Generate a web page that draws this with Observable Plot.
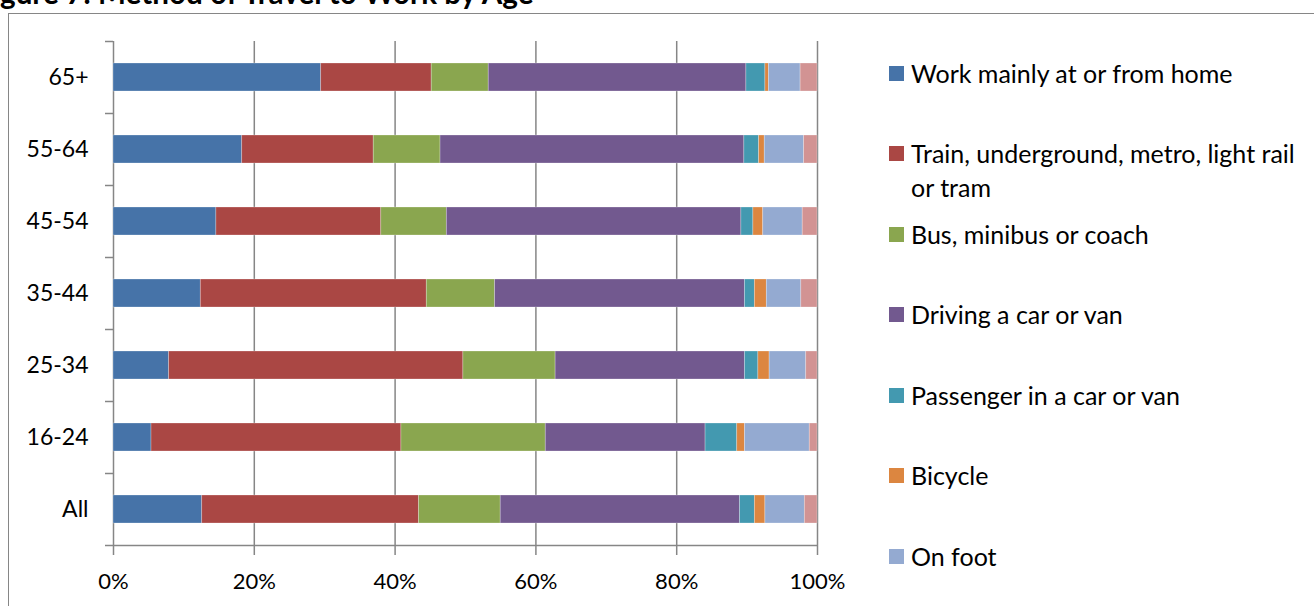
<!DOCTYPE html>
<html>
<head>
<meta charset="utf-8">
<script src="https://cdn.jsdelivr.net/npm/d3@7"></script>
<script src="https://cdn.jsdelivr.net/npm/@observablehq/plot@0.6"></script>
<style>
  html, body { margin: 0; padding: 0; background: #fff; }
  #wrap { position: relative; width: 1314px; height: 606px; overflow: hidden; background: #fff; font-family: Lato, "Open Sans", sans-serif; }
  #frame { position: absolute; left: 8px; top: 13px; width: 1400px; height: 700px; border: 1.5px solid #868686; box-sizing: border-box; }
  #title { position: absolute; left: 0; top: 0; }
  #chart { position: absolute; left: 0; top: 0; }
  .lg { position: absolute; left: 889px; width: 420px; font-size: 25px; line-height: 34px; color: #000; }
  .lg .sw { position: absolute; left: 0; top: 10px; width: 15px; height: 15px; }
  .lg .tx { margin-left: 22px; display: block; width: 395px; }
</style>
</head>
<body>
<div id="wrap">
  <div id="frame"></div>
  <svg id="title" width="1314" height="20"></svg>
  <div id="chart"></div>
  <div id="legend"></div>
</div>
<script>
// ---- Data ----
const ages = ["65+", "55-64", "45-54", "35-44", "25-34", "16-24", "All"];
const modes = [
  "Work mainly at or from home",
  "Train, underground, metro, light rail or tram",
  "Bus, minibus or coach",
  "Driving a car or van",
  "Passenger in a car or van",
  "Bicycle",
  "On foot",
  "Other"
];
const colors = ["#4673A8", "#AA4744", "#8AA64F", "#72598F", "#4399B0", "#DC8640", "#94AAD1", "#D29393"];
// percentage values per age group, in mode order
const v65plus = [29.5, 15.7, 8.1, 36.6, 2.7, 0.5, 4.5, 2.4];
const v55_64  = [18.3, 18.7, 9.5, 43.2, 2.1, 0.8, 5.6, 1.9];
const v45_54  = [14.6, 23.4, 9.3, 41.8, 1.7, 1.4, 5.6, 2.1];
const v35_44  = [12.4, 32.1, 9.7, 35.5, 1.4, 1.7, 4.9, 2.3];
const v25_34  = [7.9, 41.8, 13.1, 26.9, 1.9, 1.6, 5.2, 1.6];
const v16_24  = [5.4, 35.5, 20.5, 22.7, 4.5, 1.1, 9.2, 1.1];
const vAll    = [12.6, 30.8, 11.6, 34.0, 2.1, 1.5, 5.6, 1.8];
const xTicks = [0, 0.2, 0.4, 0.6, 0.8, 1];
const titleText = "Figure 7: Method of Travel to Work by Age";

// ---- Build table ----
const series = [v65plus, v55_64, v45_54, v35_44, v25_34, v16_24, vAll];
const rows = [];
ages.forEach((a, i) => modes.forEach((m, j) => rows.push({age: a, mode: m, value: series[i][j]})));

const grid = "#868686";
const plot = Plot.plot({
  width: 860,
  height: 606,
  marginLeft: 113,
  marginRight: 43,
  marginTop: 41,
  marginBottom: 60,
  style: {background: "transparent", fontFamily: "Lato, 'Open Sans', sans-serif", fontSize: "22px", color: "#000"},
  x: {domain: [0, 1]},
  y: {domain: ages, paddingInner: 0.61, paddingOuter: 0.305},
  color: {domain: modes, range: colors},
  marks: [
    Plot.ruleX(xTicks, {x: d => d, stroke: grid, strokeWidth: 1.5, insetBottom: -9}),
    Plot.barX(rows, Plot.stackX({offset: "normalize", x: "value", y: "age", fill: "mode", stroke: "white", strokeOpacity: 0.35, strokeWidth: 0.75})),
    Plot.ruleY(ages, {y: d => d, dy: -36, x1: 0, x2: 0, insetLeft: -8, stroke: grid, strokeWidth: 1.5}),
    Plot.ruleY([ages[ages.length - 1]], {y: d => d, dy: 36, x1: 0, x2: 1, insetLeft: -8, stroke: grid, strokeWidth: 1.5}),
    Plot.axisX({ticks: xTicks, tickFormat: d3.format(".0%"), tickSize: 0, tickPadding: 27, label: null, fill: "#000"}),
    Plot.axisY({tickSize: 0, tickPadding: 25, label: null, fill: "#000", fontSize: 23})
  ]
});
document.getElementById("chart").appendChild(plot);

// ---- Title (partly cut off at top-left, as in the reference) ----
(function () {
  const ctx = document.createElement("canvas").getContext("2d");
  const fam = "Lato, 'Open Sans', sans-serif";
  let size = 24;
  ctx.font = `bold ${size}px ${fam}`;
  const visible = titleText.slice(2);
  const w = ctx.measureText(visible).width;
  size = size * 537 / w;
  ctx.font = `bold ${size}px ${fam}`;
  const fi = ctx.measureText(titleText.slice(0, 2)).width;
  d3.select("#title").append("text")
    .attr("x", -fi).attr("y", 4)
    .attr("font-family", fam).attr("font-weight", "bold").attr("font-size", size)
    .attr("fill", "#000").text(titleText);
})();

// ---- Legend (entries past the bottom edge are outside the visible frame, as in the reference) ----
const legend = d3.select("#legend");
modes.forEach((m, i) => {
  const top = 72.5 + i * 80.5 - 17;
  if (top + 34 > 606) return;
  const e = legend.append("div").attr("class", "lg").style("top", top + "px");
  e.append("span").attr("class", "sw").style("background", colors[i]);
  e.append("span").attr("class", "tx").text(m);
});
</script>
</body>
</html>
